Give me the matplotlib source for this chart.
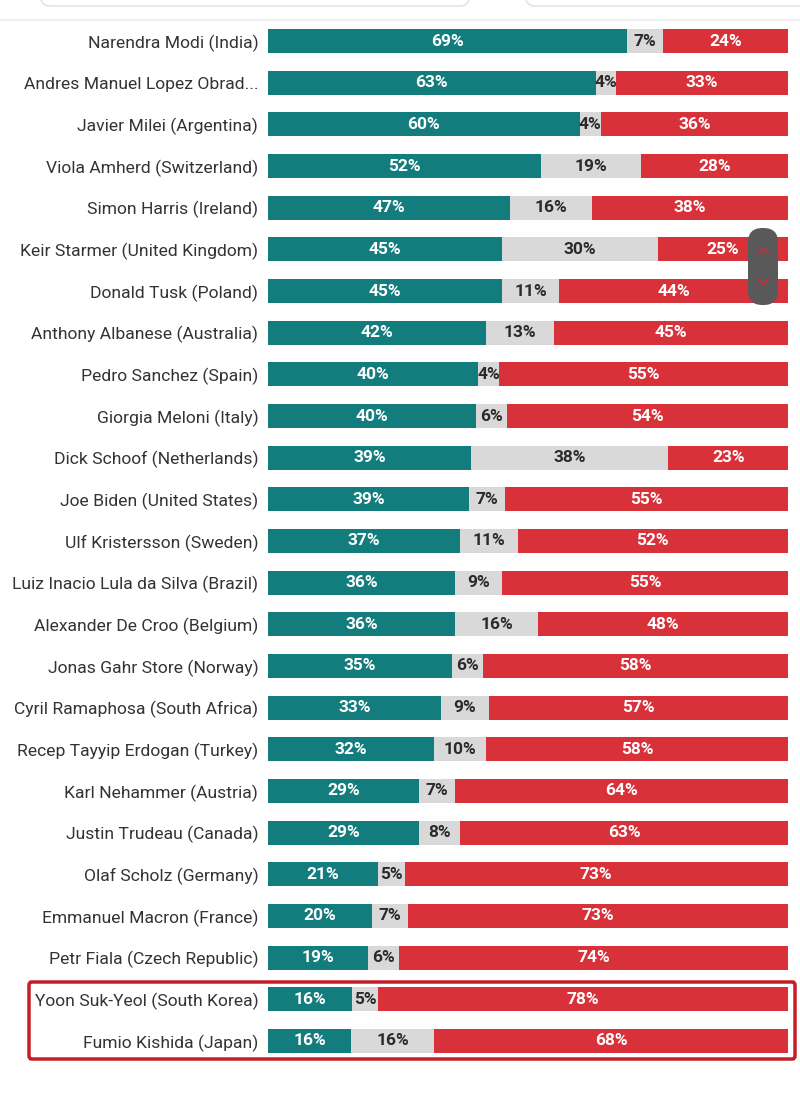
import matplotlib
matplotlib.use("Agg")
import matplotlib.pyplot as plt
from matplotlib.patches import FancyBboxPatch
import numpy as np

leaders = [
    "Narendra Modi (India)",
    "Andres Manuel Lopez Obrad...",
    "Javier Milei (Argentina)",
    "Viola Amherd (Switzerland)",
    "Simon Harris (Ireland)",
    "Keir Starmer (United Kingdom)",
    "Donald Tusk (Poland)",
    "Anthony Albanese (Australia)",
    "Pedro Sanchez (Spain)",
    "Giorgia Meloni (Italy)",
    "Dick Schoof (Netherlands)",
    "Joe Biden (United States)",
    "Ulf Kristersson (Sweden)",
    "Luiz Inacio Lula da Silva (Brazil)",
    "Alexander De Croo (Belgium)",
    "Jonas Gahr Store (Norway)",
    "Cyril Ramaphosa (South Africa)",
    "Recep Tayyip Erdogan (Turkey)",
    "Karl Nehammer (Austria)",
    "Justin Trudeau (Canada)",
    "Olaf Scholz (Germany)",
    "Emmanuel Macron (France)",
    "Petr Fiala (Czech Republic)",
    "Yoon Suk-Yeol (South Korea)",
    "Fumio Kishida (Japan)",
]
approve = [69, 63, 60, 52, 47, 45, 45, 42, 40, 40, 39, 39, 37, 36, 36, 35, 33, 32, 29, 29, 21, 20, 19, 16, 16]
neutral = [7, 4, 4, 19, 16, 30, 11, 13, 4, 6, 38, 7, 11, 9, 16, 6, 9, 10, 7, 8, 5, 7, 6, 5, 16]
disapprove = [24, 33, 36, 28, 38, 25, 44, 45, 55, 54, 23, 55, 52, 55, 48, 58, 57, 58, 64, 63, 73, 73, 74, 78, 68]

TEAL = "#137d7e"
GREY = "#d9d9d9"
RED = "#d8313a"

plt.rcParams['font.family'] = ['Roboto', 'DejaVu Sans']

fig = plt.figure(figsize=(8, 10.95), dpi=100)
fig.patch.set_facecolor("white")

ax = fig.add_axes([268 / 800, 1 - 1061.8 / 1095, 520 / 800, (1061.8 - 20.2) / 1095])

a = np.array(approve, float)
n = np.array(neutral, float)
d = np.array(disapprove, float)
tot = a + n + d
af, nf, df = a / tot * 100, n / tot * 100, d / tot * 100
y = np.arange(len(leaders))
h = 0.58

ax.barh(y, af, height=h, color=TEAL, linewidth=0)
ax.barh(y, nf, left=af, height=h, color=GREY, linewidth=0)
ax.barh(y, df, left=af + nf, height=h, color=RED, linewidth=0)

for i in range(len(leaders)):
    ax.text(af[i] / 2, y[i], f"{approve[i]}%", ha="center", va="center",
            color="white", fontsize=12.5, fontweight="bold")
    ax.text(af[i] + nf[i] / 2, y[i], f"{neutral[i]}%", ha="center", va="center",
            color="#2a2a2a", fontsize=12.5, fontweight="bold")
    ax.text(af[i] + nf[i] + df[i] / 2, y[i], f"{disapprove[i]}%", ha="center", va="center",
            color="white", fontsize=12.5, fontweight="bold")

ax.set_xlim(0, 100)
ax.set_ylim(len(leaders) - 0.5, -0.5)
ax.set_yticks(y)
ax.set_yticklabels(leaders, fontsize=12.6, color="#333333")
ax.tick_params(axis="y", length=0, pad=7)
ax.set_xticks([])
for s in ax.spines.values():
    s.set_visible(False)

# top UI fragments
fig.add_artist(FancyBboxPatch((40 / 800, 1 - 6 / 1095), 430 / 800, 30 / 1095,
                              boxstyle="round,pad=0,rounding_size=0.012",
                              transform=fig.transFigure, facecolor="white",
                              edgecolor="#e4e4e4", linewidth=1.2))
fig.add_artist(FancyBboxPatch((525 / 800, 1 - 6 / 1095), 300 / 800, 30 / 1095,
                              boxstyle="round,pad=0,rounding_size=0.012",
                              transform=fig.transFigure, facecolor="white",
                              edgecolor="#e4e4e4", linewidth=1.2))
fig.add_artist(plt.Line2D([0, 1], [1 - 20 / 1095] * 2, transform=fig.transFigure,
                          color="#eeeeee", linewidth=1.5))

# highlight box
fig.add_artist(FancyBboxPatch((29 / 800, 1 - 1059 / 1095), 766 / 800, 77 / 1095,
                              boxstyle="round,pad=0,rounding_size=0.003",
                              transform=fig.transFigure, facecolor="none",
                              edgecolor="#c41f28", linewidth=2.5))

# scroll widget
fig.add_artist(FancyBboxPatch((748 / 800, 1 - 305 / 1095), 30 / 800, 77 / 1095,
                              boxstyle="round,pad=0,rounding_size=0.018",
                              transform=fig.transFigure, facecolor="#595959",
                              edgecolor="none", mutation_aspect=800 / 1095))
cx = 763 / 800
for yc, sgn in ((251, 1), (282, -1)):
    yy = 1 - yc / 1095
    fig.add_artist(plt.Line2D([cx - 5 / 800, cx, cx + 5 / 800],
                              [yy - sgn * 2.5 / 1095, yy + sgn * 2.5 / 1095, yy - sgn * 2.5 / 1095],
                              transform=fig.transFigure, color="#c0303a", linewidth=1.5))

fig.savefig("out.png", dpi=100, facecolor="white")
